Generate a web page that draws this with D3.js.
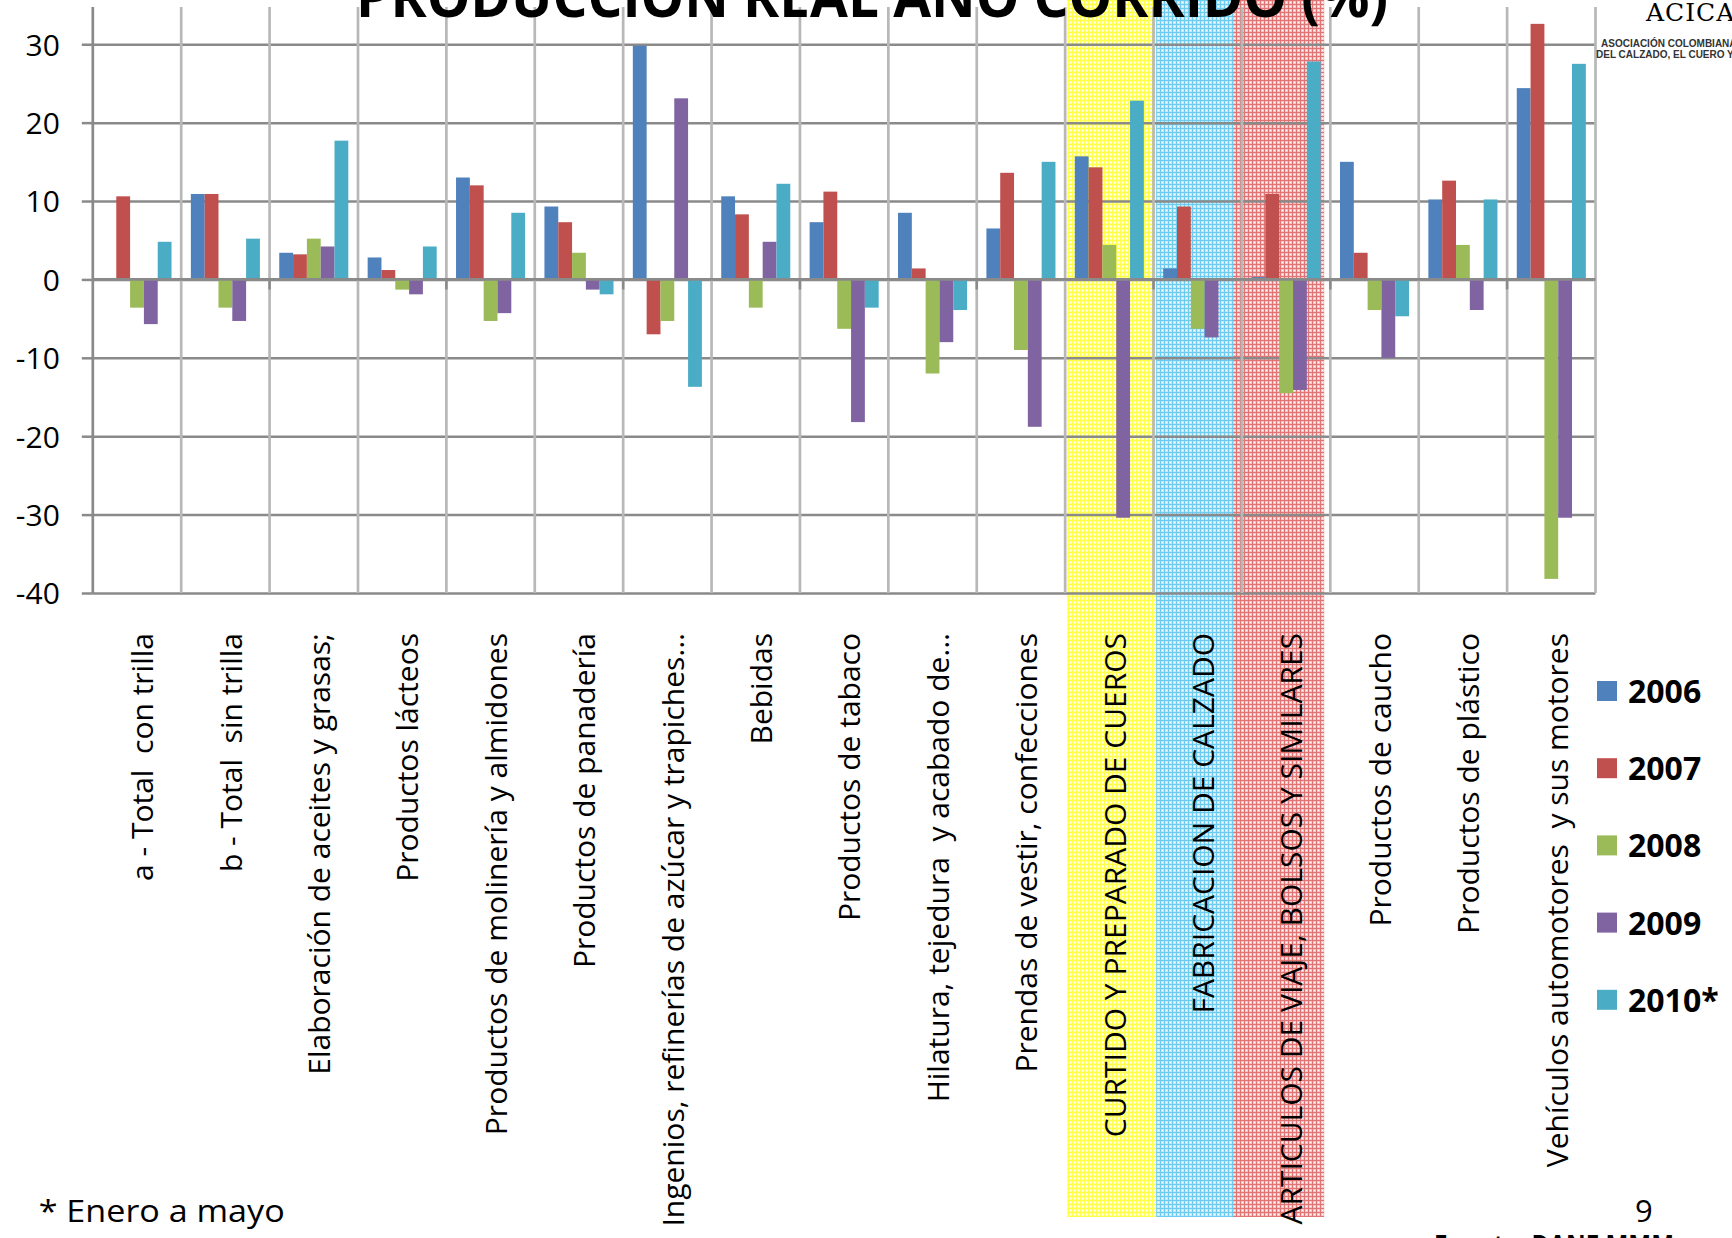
<!DOCTYPE html>
<html>
<head>
<meta charset="utf-8">
<script src="https://cdn.jsdelivr.net/npm/d3@7"></script>
<style>
    body { margin: 0; background: #fff; overflow: hidden; }
    svg { display: block; }
</style>
</head>
<body>
<div id="chart-area"></div>
<script>

// Chart values
var categories = [
    "a - Total  con trilla",
    "b - Total  sin trilla",
    "Elaboración de aceites y grasas;",
    "Productos lácteos",
    "Productos de molinería y almidones",
    "Productos de panadería",
    "Ingenios, refinerías de azúcar y trapiches...",
    "Bebidas",
    "Productos de tabaco",
    "Hilatura, tejedura  y acabado de...",
    "Prendas de vestir, confecciones",
    "CURTIDO Y PREPARADO DE CUEROS",
    "FABRICACION DE CALZADO",
    "ARTICULOS DE VIAJE, BOLSOS Y SIMILARES",
    "Productos de caucho",
    "Productos de plástico",
    "Vehículos automotores  y sus motores"
];

var years = ["2006", "2007", "2008", "2009", "2010*"];

var values2006 = [null, 10.9, 3.4, 2.8, 13.0, 9.3, 29.8, 10.6, 7.3, 8.5, 6.5, 15.7, 1.4, 0.3, 15.0, 10.2, 24.4];
var values2007 = [10.6, 10.9, 3.2, 1.2, 12.0, 7.3, -7.0, 8.3, 11.2, 1.4, 13.6, 14.3, 9.3, 10.9, 3.4, 12.6, 32.6];
var values2008 = [-3.6, -3.6, 5.2, -1.3, -5.3, 3.4, -5.3, -3.6, -6.3, -12.0, -9.0, 4.4, -6.3, -14.5, -3.9, 4.4, -38.2];
var values2009 = [-5.7, -5.3, 4.2, -1.9, -4.3, -1.3, 23.1, 4.8, -18.2, -8.0, -18.8, -30.4, -7.4, -14.1, -10.0, -3.9, -30.4];
var values2010 = [4.8, 5.2, 17.7, 4.2, 8.5, -1.9, -13.7, 12.2, -3.6, -3.9, 15.0, 22.8, null, 27.8, -4.7, 10.2, 27.5];

var yTicks = [30, 20, 10, 0, -10, -20, -30, -40];

// the three leather sector categories that get a coloured band
var highlighted = ["CURTIDO Y PREPARADO DE CUEROS", "FABRICACION DE CALZADO", "ARTICULOS DE VIAJE, BOLSOS Y SIMILARES"];

var title = "PRODUCCION REAL AÑO CORRIDO (%)";
var footnote = "* Enero a mayo";
var pageNumber = "9";
var source = "Fuente: DANE MMM";


/*
 * BarVis - Object constructor function
 * @param _parentElement 	-- the HTML element in which to draw the visualization
 */
BarVis = function(_parentElement) {
    this.parentElement = _parentElement;
    this.initVis();
}

BarVis.prototype.initVis = function() {
    var vis = this;

    vis.width = 1732;
    vis.height = 1238;

    vis.plot = {left: 92.8, right: 1595.5, top: 7, bottom: 593};

    vis.colors = ["#4f81bd", "#c0504d", "#9bbb59", "#8064a2", "#4bacc6"];
    vis.gridColor = "#8a8a8a";
    vis.vGridColor = "#b8b8b8";
    vis.font = "'Open Sans', 'DejaVu Sans', sans-serif";

    vis.svg = d3.select("#" + vis.parentElement).append("svg")
        .attr("width", vis.width)
        .attr("height", vis.height);

    // Scales
    vis.x0 = d3.scaleBand()
        .domain(categories)
        .range([vis.plot.left, vis.plot.right])
        .paddingInner(0)
        .paddingOuter(0);

    vis.x1 = d3.scaleBand()
        .domain(years)
        .range([0, vis.x0.bandwidth()])
        .paddingInner(0)
        .paddingOuter(0.7);

    vis.y = d3.scaleLinear()
        .domain([-40, 34.75])
        .range([vis.plot.bottom, vis.plot.top]);

    vis.color = d3.scaleOrdinal().domain(years).range(vis.colors);

    vis.wrangleData();
}

BarVis.prototype.wrangleData = function() {
    var vis = this;

    var series = [values2006, values2007, values2008, values2009, values2010];

    vis.displayData = [];
    categories.forEach(function(c, i) {
        years.forEach(function(yr, j) {
            if (series[j][i] !== null) {
                vis.displayData.push({category: c, year: yr, value: series[j][i]});
            }
        });
    });

    vis.updateVis();
}

BarVis.prototype.updateVis = function() {
    var vis = this;
    var svg = vis.svg;

    // patterned bands behind the leather categories
    var defs = svg.append("defs");
    var bandStyles = [
        {id: "pat-yellow", light: "#ffffb4", mid: "#ffff4c"},
        {id: "pat-cyan", light: "#c4eafa", mid: "#6ccbee"},
        {id: "pat-red", light: "#f5c6c6", mid: "#e07474"}
    ];
    bandStyles.forEach(function(s) {
        var p = defs.append("pattern")
            .attr("id", s.id)
            .attr("patternUnits", "userSpaceOnUse")
            .attr("width", 4).attr("height", 4);
        p.append("rect").attr("width", 4).attr("height", 4).attr("fill", s.light);
        p.append("rect").attr("width", 4).attr("height", 1).attr("fill", s.mid);
        p.append("rect").attr("width", 1).attr("height", 4).attr("fill", s.mid);
        p.append("rect").attr("x", 2).attr("y", 2).attr("width", 1).attr("height", 1).attr("fill", "#fff");
    });

    // band edges are hand drawn on the slide, a bit off the category lines
    var bandShift = [[0.02, 0.03], [0.03, -0.1], [-0.1, -0.07]];
    svg.append("g").selectAll("rect")
        .data(highlighted)
        .enter().append("rect")
        .attr("x", function(d, i) { return vis.x0(d) + bandShift[i][0] * vis.x0.step(); })
        .attr("width", function(d, i) { return vis.x0.step() * (1 - bandShift[i][0] + bandShift[i][1]); })
        .attr("y", 0)
        .attr("height", 1217)
        .attr("fill", function(d, i) { return "url(#" + bandStyles[i].id + ")"; });

    // horizontal gridlines
    var grid = svg.append("g")
        .attr("class", "grid")
        .attr("transform", "translate(" + vis.plot.left + ",0)")
        .call(d3.axisLeft(vis.y).tickValues(yTicks).tickSize(-(vis.plot.right - vis.plot.left)).tickFormat(""));
    grid.select(".domain").remove();
    grid.selectAll("line").attr("stroke", vis.gridColor).attr("stroke-width", 2.5);

    // vertical gridlines on category boundaries
    var boundaries = d3.range(categories.length + 1).map(function(i) {
        return vis.plot.left + i * vis.x0.step();
    });
    svg.append("g").selectAll("line")
        .data(boundaries.slice(1))
        .enter().append("line")
        .attr("x1", function(d) { return d; })
        .attr("x2", function(d) { return d; })
        .attr("y1", vis.plot.top)
        .attr("y2", vis.plot.bottom)
        .attr("stroke", vis.vGridColor)
        .attr("stroke-width", 2.7);

    // bars
    svg.append("g").selectAll("rect")
        .data(vis.displayData)
        .enter().append("rect")
        .attr("x", function(d) { return vis.x0(d.category) + vis.x1(d.year); })
        .attr("width", vis.x1.bandwidth())
        .attr("y", function(d) { return vis.y(Math.max(0, d.value)); })
        .attr("height", function(d) { return Math.abs(vis.y(d.value) - vis.y(0)); })
        .attr("fill", function(d) { return vis.color(d.year); });

    // category axis at zero with ticks on every other boundary
    svg.append("line")
        .attr("x1", vis.plot.left).attr("x2", vis.plot.right)
        .attr("y1", vis.y(0)).attr("y2", vis.y(0))
        .attr("stroke", vis.gridColor).attr("stroke-width", 2.7);
    svg.append("g").selectAll("line")
        .data(boundaries.filter(function(d, i) { return i % 2 === 0 && i > 0; }))
        .enter().append("line")
        .attr("x1", function(d) { return d; })
        .attr("x2", function(d) { return d; })
        .attr("y1", vis.y(0))
        .attr("y2", vis.y(0) + 10)
        .attr("stroke", vis.gridColor)
        .attr("stroke-width", 2.5);

    // value axis (plain hyphen for negatives, like the slide)
    var yAxis = svg.append("g")
        .attr("class", "y-axis")
        .attr("transform", "translate(" + vis.plot.left + ",0)")
        .call(d3.axisLeft(vis.y).tickValues(yTicks).tickSize(11).tickPadding(22)
            .tickFormat(function(d) { return String(d); }));
    yAxis.select(".domain")
        .attr("d", "M0," + vis.plot.top + "V" + vis.plot.bottom)
        .attr("stroke", vis.gridColor).attr("stroke-width", 2.7);
    yAxis.selectAll(".tick line").attr("stroke", vis.gridColor).attr("stroke-width", 2.5);
    yAxis.selectAll("text")
        .attr("fill", "#000")
        .style("font-family", vis.font)
        .style("font-size", "30px")
        .attr("dy", "0.36em");

    // rotated category labels
    svg.append("g").selectAll("text")
        .data(categories)
        .enter().append("text")
        .attr("transform", function(d) {
            return "translate(" + (vis.x0(d) + vis.x0.bandwidth() / 2 + 16.3) + ",633) rotate(-90)";
        })
        .attr("text-anchor", "end")
        .style("font-family", vis.font)
        .style("font-size", "30px")
        .style("white-space", "pre")
        .attr("fill", "#000")
        .text(function(d) { return d; });

    // legend
    var legend = svg.append("g").selectAll("g")
        .data(years)
        .enter().append("g")
        .attr("transform", function(d, i) { return "translate(1597," + (681 + i * 77.2) + ")"; });
    legend.append("rect")
        .attr("width", 20).attr("height", 20)
        .attr("fill", function(d) { return vis.color(d); });
    legend.append("text")
        .attr("x", 31).attr("y", 22)
        .style("font-family", vis.font)
        .style("font-size", "32px")
        .style("font-weight", "bold")
        .text(function(d) { return d; });

    // title, cut at the top of the slide
    svg.append("text")
        .attr("x", 356).attr("y", 17)
        .attr("textLength", 1032).attr("lengthAdjust", "spacingAndGlyphs")
        .style("font-family", vis.font)
        .style("font-size", "58px")
        .style("font-weight", "bold")
        .text(title);

    // association logo in the corner
    svg.append("text")
        .attr("x", 1646).attr("y", 21)
        .style("font-family", "'DejaVu Serif', serif")
        .style("font-size", "25px")
        .style("letter-spacing", "1px")
        .text("ACICAL");
    svg.append("text")
        .attr("x", 1601).attr("y", 47)
        .style("font-family", "'Liberation Sans Narrow', 'Liberation Sans', sans-serif")
        .style("font-size", "10px")
        .style("font-weight", "bold")
        .attr("fill", "#333")
        .text("ASOCIACIÓN COLOMBIANA DE INDUSTRIALES");
    svg.append("text")
        .attr("x", 1596).attr("y", 58)
        .style("font-family", "'Liberation Sans Narrow', 'Liberation Sans', sans-serif")
        .style("font-size", "10px")
        .style("font-weight", "bold")
        .attr("fill", "#333")
        .text("DEL CALZADO, EL CUERO Y SUS MANUFACTURAS");

    // footer
    svg.append("text")
        .attr("x", 38.7).attr("y", 1222)
        .attr("textLength", 246).attr("lengthAdjust", "spacingAndGlyphs")
        .style("font-family", vis.font)
        .style("font-size", "31px")
        .text(footnote);
    svg.append("text")
        .attr("x", 1635).attr("y", 1222)
        .style("font-family", vis.font)
        .style("font-size", "31px")
        .text(pageNumber);
    svg.append("text")
        .attr("x", 1434).attr("y", 1256)
        .attr("textLength", 240).attr("lengthAdjust", "spacingAndGlyphs")
        .style("font-family", vis.font)
        .style("font-size", "28px")
        .style("font-weight", "bold")
        .text(source);
}

var barVis = new BarVis("chart-area");

</script>
</body>
</html>
